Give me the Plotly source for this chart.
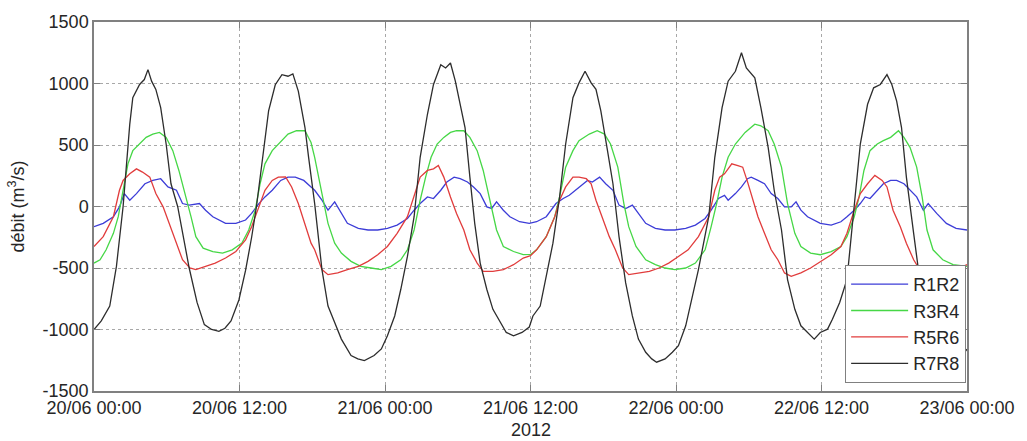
import pandas as pd
import plotly.graph_objects as go

# ---- data (hours after 20/06/2012 00:00, débit in m3/s) ----
hours_r1r2 = [0, 0.76, 1.6, 2.1, 2.5, 2.95, 3.5, 4.2, 4.85, 5.5, 6.1, 6.8, 7.3, 7.85, 8.7, 9.2, 9.8, 10.3, 10.85, 11.7,
              12.5, 13.0, 13.6, 14.1, 14.7, 15.4, 16.0, 16.6, 17.3, 17.9, 18.2, 18.8, 19.3, 19.85, 20.4, 20.9, 21.8, 22.6,
              23.4, 24.2, 25.0, 25.85, 26.4, 26.9, 27.5, 28.0, 28.6, 29.1, 29.7, 30.2, 30.8, 31.3, 31.85, 32.4, 32.8,
              33.2, 33.76, 34.3, 35.1, 35.9, 36.5, 37.3, 38.1, 38.7, 39.2, 40.0, 40.7, 41.1, 41.7, 42.2, 42.8, 43.3,
              43.85, 44.4, 44.9, 45.5, 46.3, 47.1, 47.9, 48.8, 49.6, 50.4, 50.9, 51.5, 52.0, 52.3, 52.9, 53.4, 53.9,
              54.2, 54.76, 55.3, 55.85, 56.4, 56.95, 57.5, 57.9, 58.3, 58.85, 59.4, 59.9, 60.8, 61.6, 62.1, 62.7, 63.2,
              63.6, 64.0, 64.6, 65.1, 65.7, 66.2, 66.8, 67.3, 67.85, 68.4, 68.8, 69.5, 70.3, 71.1, 72]
q_r1r2 = [-164, -137, -83, -3, 105, 51, 105, 185, 212, 226, 159, 132, 24, 11, 24, -30, -83, -110, -137, -137,
          -110, -56, 24, 78, 132, 212, 239, 239, 212, 159, 132, 51, -30, 38, -56, -137, -177, -191,
          -191, -177, -151, -97, -30, 24, 78, 65, 132, 199, 239, 226, 199, 159, 105, -3, -16,
          38, -30, -83, -124, -137, -124, -83, 24, 65, 91, 159, 212, 199, 239, 185, 132, 11,
          -16, 11, -56, -137, -177, -191, -191, -177, -151, -97, -30, 65, 91, 51, 105, 159, 226,
          239, 212, 185, 105, 65, -3, -3, 38, -30, -83, -110, -137, -151, -124, -83, -30, 24,
          78, 65, 132, 185, 212, 212, 185, 132, 78, -30, 24, -56, -137, -177, -191]

hours_r3r4 = [0, 0.5, 1.0, 1.6, 2.0, 2.4, 2.8, 3.2, 3.76, 4.3, 4.85, 5.4, 5.95, 6.5, 7.0, 7.6, 8.0, 8.4, 9.0, 9.8,
              10.6, 11.4, 12.2, 12.76, 13.3, 13.7, 14.1, 14.7, 15.2, 16.0, 16.7, 17.4, 17.9, 18.2, 18.8, 19.3, 19.85,
              20.4, 21.2, 22.0, 22.85, 23.7, 24.5, 25.3, 25.85, 26.4, 26.9, 27.35, 27.8, 28.3, 28.85, 29.4, 29.9,
              30.5, 31.0, 31.6, 32.1, 32.7, 33.2, 33.76, 34.6, 35.4, 36.0, 36.5, 37.3, 38.0, 38.4, 38.9, 39.5, 40.0,
              40.85, 41.5, 42.1, 42.6, 43.2, 43.7, 44.1, 44.7, 45.5, 46.3, 47.1, 47.9, 48.8, 49.6, 50.4, 50.9, 51.35,
              51.8, 52.3, 52.9, 53.7, 54.5, 55.0, 55.6, 56.1, 56.7, 57.2, 57.8, 58.3, 59.1, 59.9, 60.8, 61.6, 62.1,
              62.7, 63.1, 63.5, 64.0, 64.6, 65.1, 65.7, 66.35, 66.8, 67.3, 67.85, 68.3, 68.7, 69.2, 70.0, 70.85, 72]
q_r3r4 = [-460, -433, -352, -218, -83, 132, 347, 454, 508, 562, 589, 602, 562, 454, 293, 78, -83, -245, -339, -366,
          -379, -352, -298, -191, -30, 185, 347, 454, 508, 589, 616, 616, 520, 400, 105, -137, -298,
          -379, -446, -487, -500, -513, -487, -433, -352, -191, 51, 239, 400, 508, 562, 602, 616,
          616, 562, 454, 293, 24, -191, -325, -366, -392, -390, -352, -245, -83, 78, 320, 454, 535,
          589, 616, 589, 508, 320, 24, -164, -325, -433, -473, -500, -513, -500, -460, -352, -164, 24,
          239, 400, 508, 602, 669, 656, 616, 508, 320, 24, -218, -325, -379, -392, -366, -325, -245,
          -83, 78, 293, 454, 508, 535, 562, 616, 562, 481, 320, 78, -191, -352, -433, -473, -487]

hours_r5r6 = [0, 0.76, 1.6, 2.1, 2.4, 2.95, 3.5, 4.0, 4.6, 5.1, 5.7, 6.2, 6.8, 7.3, 7.9, 8.4, 9.2, 10.0, 10.85, 11.7,
              12.5, 13.0, 13.6, 14.1, 14.7, 15.2, 15.8, 16.3, 16.85, 17.4, 17.9, 18.2, 18.8, 19.3, 20.1, 20.9, 21.8,
              22.6, 23.4, 24.2, 25.0, 25.85, 26.4, 26.9, 27.5, 28.0, 28.4, 28.85, 29.4, 29.9, 30.5, 31.0, 31.6, 32.1,
              32.9, 33.76, 34.6, 35.4, 36.0, 36.5, 37.3, 38.0, 38.4, 38.9, 39.5, 40.0, 40.6, 41.0, 41.4, 41.9, 42.5,
              43.0, 43.6, 44.1, 44.9, 45.8, 46.6, 47.4, 48.2, 49.0, 49.85, 50.7, 51.2, 51.6, 52.0, 52.6, 53.1, 53.5,
              53.9, 54.2, 54.76, 55.3, 55.85, 56.4, 56.95, 57.5, 58.3, 59.1, 59.9, 60.8, 61.6, 62.1, 62.7, 63.2, 63.8,
              64.4, 65.0, 65.4, 65.9, 66.5, 67.0, 67.6, 68.1, 68.9, 70.0, 71.1, 72]
q_r5r6 = [-325, -245, -83, 132, 212, 266, 306, 280, 239, 105, -3, -137, -298, -433, -500, -513, -487, -460, -419, -366,
          -271, -164, -3, 132, 212, 239, 240, 159, 24, -137, -298, -352, -513, -554, -540, -513, -487,
          -446, -392, -325, -218, -83, 78, 239, 293, 306, 333, 239, 78, -56, -191, -352, -460, -527,
          -527, -513, -473, -419, -400, -352, -245, -83, 51, 159, 239, 239, 226, 185, 51, -83, -245,
          -352, -500, -554, -540, -527, -500, -460, -406, -352, -245, -83, 132, 239, 266, 347, 333, 320,
          200, 105, -83, -218, -352, -433, -540, -567, -540, -500, -446, -392, -325, -218, -30, 105, 185,
          253, 212, 159, -30, -164, -298, -433, -513, -540, -540, -513, -473]

hours_r7r8 = [0, 0.6, 1.3, 1.85, 2.4, 2.7, 2.95, 3.2, 3.76, 4.15, 4.45, 4.75, 5.1, 5.5, 5.95, 6.35, 6.9, 7.85, 8.5,
              9.1, 9.7, 10.3, 10.8, 11.3, 11.95, 12.5, 13.0, 13.4, 13.9, 14.4, 14.95, 15.5, 16.0, 16.4, 16.85, 17.4,
              17.7, 18.2, 18.8, 19.3, 19.85, 20.4, 21.2, 21.76, 22.3, 23.1, 23.7, 24.2, 24.8, 25.3, 25.85, 26.4,
              26.9, 27.5, 28.0, 28.6, 29.0, 29.4, 29.8, 30.2, 30.6, 31.0, 31.4, 31.85, 32.4, 32.9, 33.5, 34.0, 34.6,
              35.3, 35.9, 36.2, 36.8, 37.3, 37.85, 38.4, 38.9, 39.5, 40.0, 40.5, 41.0, 41.4, 41.8, 42.35, 42.8, 43.3,
              43.85, 44.4, 44.9, 45.5, 46.0, 46.4, 47.1, 47.7, 48.2, 48.8, 49.3, 49.85, 50.7, 51.2, 51.8, 52.3, 52.9,
              53.4, 53.8, 54.5, 55.0, 55.6, 56.1, 56.7, 57.2, 57.8, 58.3, 58.85, 59.4, 59.9, 60.5, 60.9, 61.5, 62.1,
              62.7, 63.2, 63.8, 64.3, 64.85, 65.4, 65.8, 66.2, 66.6, 67.0, 67.6, 68.1, 68.8, 69.5, 70.2, 70.8, 71.4, 72]
q_r7r8 = [-1000, -930, -809, -487, 0, 347, 670, 884, 992, 1032, 1113, 1019, 952, 804, 508, 185, 0, -500, -780,
          -960, -1000, -1015, -990, -930, -760, -520, -250, 0, 380, 777, 990, 1072, 1059, 1078, 938, 642,
          400, 24, -513, -809, -943, -1078, -1212, -1239, -1253, -1212, -1158, -1051, -890, -675, -406, -83,
          400, 750, 992, 1153, 1126, 1167, 1019, 831, 642, 239, -137, -460, -675, -836, -943, -1024, -1051,
          -1024, -980, -890, -809, -567, -298, 78, 508, 884, 1005, 1099, 1005, 952, 777, 454, 185, -245,
          -621, -890, -1078, -1185, -1239, -1266, -1239, -1185, -1132, -970, -755, -513, -83, 400, 804, 1019, 1099,
          1250, 1126, 1046, 804, 481, 132, -191, -594, -836, -970, -1024, -1078, -1024, -997, -917, -780, -594,
          24, 508, 831, 965, 992, 1072, 992, 857, 642, 239, -218, -594, -900, -1120, -1230, -1260, -1240, -1160]

series_names = ["R1R2", "R3R4", "R5R6", "R7R8"]
series_colors = ["rgb(60,60,215)", "rgb(70,215,70)", "rgb(225,60,60)", "rgb(45,45,45)"]

y_tick_vals = [-1500, -1000, -500, 0, 500, 1000, 1500]
y_tick_text = ["-1500", "-1000", "-500", "0", "500", "1000", "1500"]

start = pd.Timestamp("2012-06-20 00:00")
end = pd.Timestamp("2012-06-23 00:00")


def to_time(hours):
    return [start + pd.Timedelta(hours=h) for h in hours]


fig = go.Figure()
for name, color, hrs, q in zip(series_names, series_colors,
                               [hours_r1r2, hours_r3r4, hours_r5r6, hours_r7r8],
                               [q_r1r2, q_r3r4, q_r5r6, q_r7r8]):
    fig.add_trace(go.Scatter(x=to_time(hrs), y=q, mode="lines", name=name,
                             line=dict(color=color, width=1.3)))

axis_style = dict(
    showgrid=True, gridcolor="#a8a8a8", griddash="dot", gridwidth=1,
    showline=True, linecolor="#808080", linewidth=1.5, mirror="ticks",
    ticks="inside", ticklen=6, tickcolor="#808080", tickwidth=1.2,
    zeroline=False,
)

fig.update_layout(
    width=1027, height=441,
    margin=dict(l=94, r=53, t=19, b=50),
    paper_bgcolor="white", plot_bgcolor="white",
    font=dict(family="Liberation Sans, Arial, sans-serif", size=18, color="#262626"),
    xaxis=dict(range=[start, end], type="date", tickformat="%d/%m %H:%M",
               tick0=start, dtick=12 * 3600 * 1000, **axis_style),
    yaxis=dict(range=[-1500, 1500], tickvals=y_tick_vals, ticktext=y_tick_text, **axis_style),
    legend=dict(x=0.999, y=0.022, xanchor="right", yanchor="bottom",
                bgcolor="white", bordercolor="#808080", borderwidth=1,
                font=dict(size=18), tracegroupgap=0, itemwidth=57),
    showlegend=True,
    annotations=[
        dict(text="débit (m<sup>3</sup>/s)", xref="paper", yref="paper", x=0, y=0.5,
             xanchor="center", yanchor="middle", xshift=-77, textangle=-90,
             showarrow=False, font=dict(size=18)),
        dict(text="2012", xref="paper", yref="paper", x=0.5, y=0,
             xanchor="center", yanchor="middle", yshift=-39,
             showarrow=False, font=dict(size=18)),
    ],
)

fig.write_html("out.html")
